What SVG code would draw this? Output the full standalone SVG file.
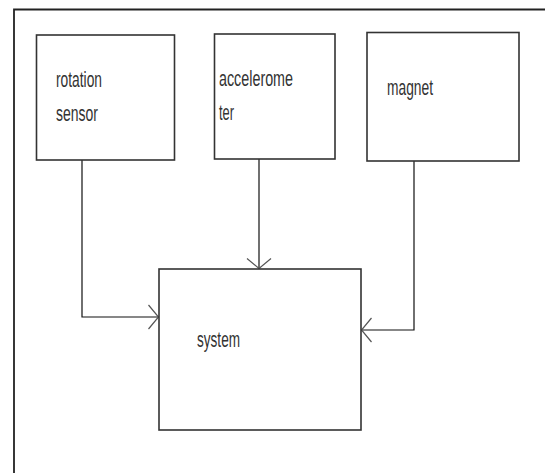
<svg xmlns="http://www.w3.org/2000/svg" width="545" height="473" viewBox="0 0 545 473">
<style>
.box{fill:#fff;stroke:#333;stroke-width:1.6}
.lbl{font-family:"Liberation Sans Narrow","Liberation Sans",sans-serif;font-size:22px;fill:#333}
.con{fill:none;stroke:#111;stroke-width:1.2}
</style>
<defs>
<marker id="arr" markerUnits="userSpaceOnUse" viewBox="-12 -13 14 26" refX="0" refY="0" markerWidth="14" markerHeight="26" orient="auto" overflow="visible">
<path d="M-10,-12 L0,0 L-10,12" fill="none" stroke="#555" stroke-width="1.2"/>
</marker>
</defs>
<rect width="545" height="473" fill="#fff"/>
<path d="M14,473 V9.5 H545" fill="none" stroke="#222" stroke-width="1.8"/>
<g id="connectors">
<path class="con" d="M82,160 V317 H158.5" marker-end="url(#arr)"/>
<path class="con" d="M259,159 V268.5" marker-end="url(#arr)"/>
<path class="con" d="M414,161 V330 H361.5" marker-end="url(#arr)"/>
</g>
<g id="rotation-sensor">
<rect class="box" x="36.5" y="35" width="138" height="125"/>
<text class="lbl" x="56" y="87" textLength="46" lengthAdjust="spacingAndGlyphs">rotation</text>
<text class="lbl" x="56" y="121" textLength="42" lengthAdjust="spacingAndGlyphs">sensor</text>
</g>
<g id="accelerometer">
<rect class="box" x="214.5" y="34" width="120.5" height="125"/>
<text class="lbl" x="219" y="86" textLength="74" lengthAdjust="spacingAndGlyphs">accelerome</text>
<text class="lbl" x="219" y="120" textLength="15" lengthAdjust="spacingAndGlyphs">ter</text>
</g>
<g id="magnet">
<rect class="box" x="367" y="32.5" width="152" height="128.5"/>
<text class="lbl" x="387" y="95" textLength="46" lengthAdjust="spacingAndGlyphs">magnet</text>
</g>
<g id="system">
<rect class="box" x="159" y="269" width="202" height="161"/>
<text class="lbl" x="197" y="347" textLength="43" lengthAdjust="spacingAndGlyphs">system</text>
</g>
</svg>
